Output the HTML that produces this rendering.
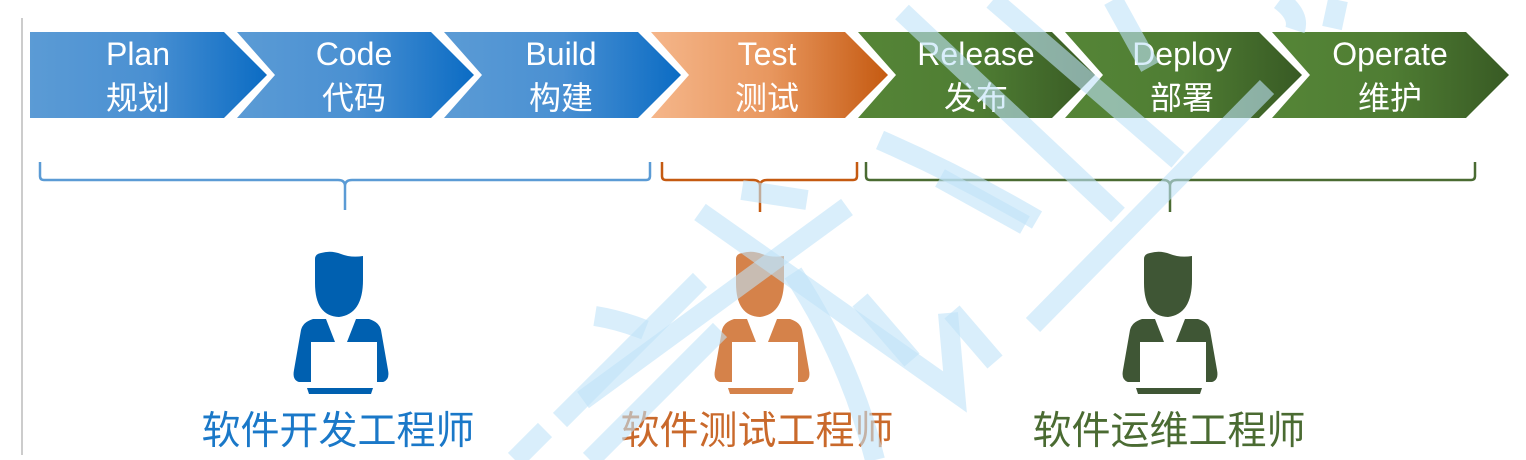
<!DOCTYPE html>
<html><head><meta charset="utf-8">
<style>
html,body{margin:0;padding:0;background:#fff;}
body{width:1526px;height:460px;overflow:hidden;position:relative;}
svg{position:absolute;left:0;top:0;}
text{font-family:"Liberation Sans","Noto Sans CJK SC",sans-serif;}
</style></head>
<body>
<svg width="1526" height="460" viewBox="0 0 1526 460" xmlns="http://www.w3.org/2000/svg">
<defs>
<linearGradient id="gb" x1="0" x2="1" y1="0" y2="0"><stop offset="0" stop-color="#5b9bd5"/><stop offset="0.5" stop-color="#4a90d2"/><stop offset="1" stop-color="#0b6cc4"/></linearGradient>
<linearGradient id="go" x1="0" x2="1" y1="0" y2="0"><stop offset="0" stop-color="#f5b68a"/><stop offset="0.5" stop-color="#e8975f"/><stop offset="1" stop-color="#c55a11"/></linearGradient>
<linearGradient id="gg" x1="0" x2="1" y1="0" y2="0"><stop offset="0" stop-color="#558537"/><stop offset="0.5" stop-color="#4f7d33"/><stop offset="1" stop-color="#385a24"/></linearGradient>
</defs>
<line x1="22" y1="18" x2="22" y2="455" stroke="#999" stroke-width="1"/>

<polygon points="30,32 224,32 267,75 224,118 30,118" fill="url(#gb)"/>
<polygon points="237,32 431,32 474,75 431,118 237,118 275,75" fill="url(#gb)"/>
<polygon points="444,32 638,32 681,75 638,118 444,118 482,75" fill="url(#gb)"/>
<polygon points="651,32 845,32 888,75 845,118 651,118 689,75" fill="url(#go)"/>
<polygon points="858,32 1052,32 1095,75 1052,118 858,118 896,75" fill="url(#gg)"/>
<polygon points="1065,32 1259,32 1302,75 1259,118 1065,118 1103,75" fill="url(#gg)"/>
<polygon points="1272,32 1466,32 1509,75 1466,118 1272,118 1310,75" fill="url(#gg)"/>

<g fill="#fff" font-size="32" text-anchor="middle">
<text x="138" y="65">Plan</text><text x="138" y="109">规划</text>
<text x="354" y="65">Code</text><text x="354" y="109">代码</text>
<text x="561" y="65">Build</text><text x="561" y="109">构建</text>
<text x="767" y="65">Test</text><text x="767" y="109">测试</text>
<text x="976" y="65">Release</text><text x="976" y="109">发布</text>
<text x="1182" y="65">Deploy</text><text x="1182" y="109">部署</text>
<text x="1390" y="65">Operate</text><text x="1390" y="109">维护</text>
</g>

<g fill="none" stroke-width="2.5">
<path d="M40,162 V176 Q40,180 44,180 H338 Q345,180 345,186 V210 M345,186 Q345,180 352,180 H646 Q650,180 650,176 V162" stroke="#5b9bd5"/>
<path d="M662,162 V176 Q662,180 666,180 H753 Q760,180 760,186 V212 M760,186 Q760,180 767,180 H853 Q857,180 857,176 V162" stroke="#c55a11"/>
<path d="M866,162 V176 Q866,180 870,180 H1163 Q1170,180 1170,186 V212 M1170,186 Q1170,180 1177,180 H1471 Q1475,180 1475,176 V162" stroke="#4a6b32"/>
</g>

<defs>
<g id="person">
<path d="M-26,1 Q-26,-4 -20,-5 Q-10,-8 0,-4 Q10,0 22,-2 V22 Q22,56 -2,59 Q-26,58 -26,25 Z"/>
<path d="M-28,61 L-15,61 L-6,84 L-30,84 L-30,124 L-42,124 Q-49,122 -47,112 L-40,72 Q-38,64 -28,61 Z"/>
<path d="M28,61 L15,61 L6,84 L36,84 L36,124 L42,124 Q49,122 47,112 L40,72 Q38,64 28,61 Z"/>
<path d="M-34,130 H32 L30,136 H-32 Z"/>
</g>
</defs>
<use href="#person" x="341" y="258" fill="#0060b0"/>
<use href="#person" x="762" y="258" fill="#d5824a"/>
<use href="#person" x="1170" y="258" fill="#3f5635"/>

<g font-size="39" text-anchor="middle">
<text x="338" y="444" fill="#1a78c8">软件开发工程师</text>
<text x="757" y="444" fill="#c9692b">软件测试工程师</text>
<text x="1169" y="444" fill="#4a6b32">软件运维工程师</text>
</g>

<g stroke="#bfe3f8" stroke-opacity="0.6" stroke-width="20" fill="none" stroke-linecap="butt">
<path d="M700,212 L955,392 L948,313"/>
<path d="M847,207 L583,400"/>
<path d="M700,280 L560,420"/>
<path d="M793,273 Q850,360 875,460"/>
<path d="M595,316 Q620,320 645,330"/>
<path d="M742,190 L807,200"/>
<path d="M720,330 L590,460"/>
<path d="M940,178 L1025,225"/>
<path d="M902,12 L1118,215"/>
<path d="M993,0 L1178,160"/>
<path d="M1267,87 L1033,325"/>
<path d="M1113,0 L1150,67"/>
<path d="M880,140 Q960,175 1037,220"/>
<path d="M1338,0 L1332,28"/>
<path d="M860,300 L912,360"/>
<path d="M952,312 L995,362"/>
<path d="M545,430 L515,460"/>
<path d="M1280,0 Q1300,15 1295,30"/>
</g>
</svg>
</body></html>
